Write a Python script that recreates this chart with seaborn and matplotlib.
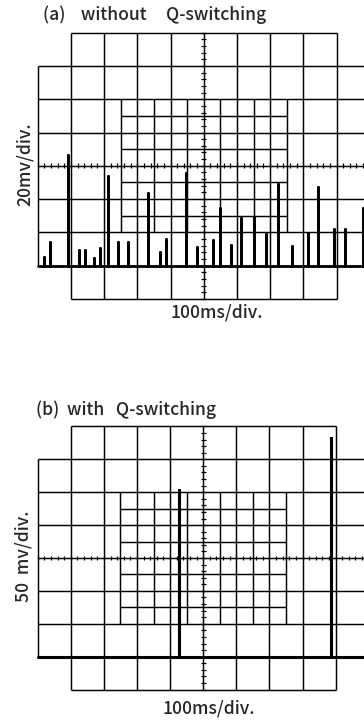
import numpy as np
import pandas as pd
import seaborn as sns
import matplotlib.pyplot as plt

# oscilloscope traces, positions and heights in screen divisions
# (a) without Q-switching, 20 mV/div
a_pos = [0.20, 0.37, 0.92, 1.25, 1.41, 1.70, 1.88, 2.11, 2.41, 2.71, 3.31, 3.67, 3.86, 4.47,
         4.81, 5.27, 5.50, 5.83, 6.13, 6.50, 6.87, 7.24, 7.66, 8.14, 8.44, 8.91, 9.25, 9.80]
a_height = [0.27, 0.70, 3.32, 0.47, 0.47, 0.22, 0.52, 2.69, 0.70, 0.70, 2.19, 0.42, 0.79, 2.77,
            0.57, 0.77, 1.72, 0.62, 1.42, 1.47, 0.94, 2.44, 0.59, 0.97, 2.37, 1.09, 1.11, 1.72]
# (b) with Q-switching, 50 mV/div
b_pos = [4.26, 8.86]
b_height = [5.08, 6.65]

titles = ["(a)    without     Q-switching", "(b)  with   Q-switching"]
ylabels = ["20mv/div.", "50  mv/div."]
xlabel = "100ms/div."

sns.set_style("white")
plt.rcParams['font.family'] = ['Noto Sans CJK JP', 'DejaVu Sans']


def trace_frame(pos, height, end=10.2):
    t, v = [0.0], [0.0]
    for p, h in zip(pos, height):
        t += [p, p, p]
        v += [0.0, h, 0.0]
    t.append(end)
    v.append(0.0)
    return pd.DataFrame({"t": t, "v": v})


def graticule(ax):
    kw = dict(color="black", lw=1.05, solid_capstyle="butt")
    for x in range(1, 10):
        ax.plot([x, x], [-1, 7], **kw)
    for x in (0, 10):
        ax.plot([x, x], [0, 6], **kw)
    for y in range(0, 7):
        ax.plot([0, 10], [y, y], **kw)
    for y in (-1, 7):
        ax.plot([1, 9], [y, y], **kw)
    # finer half-division grid in the middle
    for x in np.arange(2.5, 8, 1.0):
        ax.plot([x, x], [1, 5], **kw)
    for y in np.arange(1.5, 5, 1.0):
        ax.plot([2.5, 7.5], [y, y], **kw)
    # minor ticks on the centre cross
    ty = np.arange(-1, 7.01, 0.2)
    ax.hlines(ty, 4.93, 5.07, color="black", lw=0.9)
    tx = np.arange(0, 10.01, 0.2)
    ax.vlines(tx, 2.93, 3.07, color="black", lw=0.9)


fig = plt.figure(figsize=(3.64, 7.21), dpi=100)
H = 721.0
ax_a = fig.add_axes([0, 1 - 360 / H, 1, 360 / H])
ax_b = fig.add_axes([0, 0, 1, 361 / H])

ax_a.set_xlim(-37.7 / 33.2, (364 - 37.7) / 33.2)
ax_a.set_ylim((265.7 - 360) / 33.3, 265.7 / 33.3)
ax_b.set_xlim(-37.7 / 33.1, (364 - 37.7) / 33.1)
ax_b.set_ylim((656.7 - 721) / 32.9, (656.7 - 360) / 32.9)

for ax in (ax_a, ax_b):
    ax.set_axis_off()
    graticule(ax)

sns.lineplot(data=trace_frame(a_pos, a_height), x="t", y="v", sort=False, estimator=None,
             color="black", lw=2.0, ax=ax_a)
sns.lineplot(data=trace_frame(b_pos, b_height), x="t", y="v", sort=False, estimator=None,
             color="black", lw=2.2, ax=ax_b)

fs = 12.6
tk = dict(fontsize=fs, fontweight="medium")
ax_a.text(0.17, 7.53, titles[0], ha="left", va="center", **tk)
ax_a.text(-0.38, 3.05, ylabels[0], ha="center", va="center", rotation=90, **tk)
ax_a.text(5.39, -1.42, xlabel, ha="center", va="center", **tk)

ax_b.text(-0.05, 7.5, titles[1], ha="left", va="center", **tk)
ax_b.text(-0.44, 3.04, ylabels[1], ha="center", va="center", rotation=90, **tk)
ax_b.text(5.17, -1.56, xlabel, ha="center", va="center", **tk)

fig.savefig("out.png", dpi=100, facecolor="white")
